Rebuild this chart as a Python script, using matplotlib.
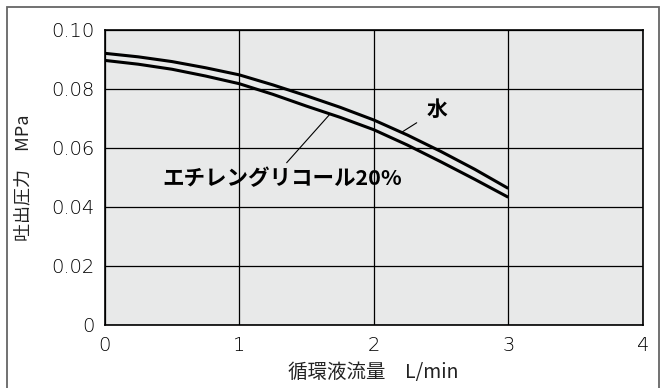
import numpy as np
import matplotlib
matplotlib.use('Agg')
import matplotlib.pyplot as plt
from matplotlib.patches import Rectangle

plt.rcParams['font.family'] = ['Noto Sans CJK JP', 'DejaVu Sans']

# flow rate L/min
flow = [0, 0.25, 0.5, 0.75, 1.0, 1.25, 1.5, 1.75, 2.0, 2.25, 2.5, 2.75, 3.0]
# discharge pressure MPa
water = [0.0921, 0.0909, 0.0893, 0.0872, 0.0848, 0.0814, 0.0777, 0.0738,
         0.0695, 0.0644, 0.0588, 0.0528, 0.0463]
glycol = [0.0897, 0.0884, 0.0867, 0.0844, 0.0818, 0.0782, 0.0742, 0.0704,
          0.0662, 0.0610, 0.0553, 0.0494, 0.0433]

xticks = [0, 1, 2, 3, 4]
yticks = [0, 0.02, 0.04, 0.06, 0.08, 0.10]
ytick_labels = ['0', '0.02', '0.04', '0.06', '0.08', '0.10']

fig = plt.figure(figsize=(6.6, 3.88), dpi=100)
ax = fig.add_axes([0.1585, 0.1624, 0.8155, 0.7603])

# outer frame
fig.patches.append(Rectangle((7 / 660, -0.02), 652 / 660, 1 - 7 / 388 + 0.02,
                             transform=fig.transFigure, fill=False,
                             edgecolor='#666666', linewidth=1.3, clip_on=False))

ax.set_facecolor('#e8e9e9')
ax.plot(flow, water, color='black', lw=2.2, solid_capstyle='butt')
ax.plot(flow, glycol, color='black', lw=2.2, solid_capstyle='butt')

ax.set_xlim(0, 4)
ax.set_ylim(0, 0.10)
ax.set_xticks(xticks)
ax.set_yticks(yticks)
ax.set_yticklabels(ytick_labels)
ax.tick_params(length=0, labelsize=14, colors='black')
ax.tick_params(axis='x', pad=8)
ax.tick_params(axis='y', pad=7)
for lab in ax.get_xticklabels() + ax.get_yticklabels():
    lab.set_family(['DejaVu Sans'])
    lab.set_fontweight('light')
ax.grid(True, color='black', lw=0.9)
ax.set_axisbelow(True)
for s in ax.spines.values():
    s.set_linewidth(1.2)

ax.set_xlabel('循環液流量\u3000L/min', fontsize=14, labelpad=5, color='#222222')
ax.set_ylabel('吐出圧力\u3000MPa', fontsize=13, labelpad=14, color='#222222')

ax.annotate('水', xy=(2.21, 0.0654), xytext=(2.47, 0.0729),
            ha='center', va='center', fontsize=15, fontweight='bold',
            arrowprops=dict(arrowstyle='-', color='black', lw=0.8,
                            shrinkA=6, shrinkB=0))
ax.annotate('エチレングリコール20%', xy=(1.675, 0.0715), xytext=(0.43, 0.0498),
            ha='left', va='center', fontsize=15.5, fontweight='bold',
            arrowprops=dict(arrowstyle='-', color='black', lw=0.8,
                            relpos=(0.5, 1.0), shrinkA=2, shrinkB=0))

fig.savefig('out.png', dpi=100)
